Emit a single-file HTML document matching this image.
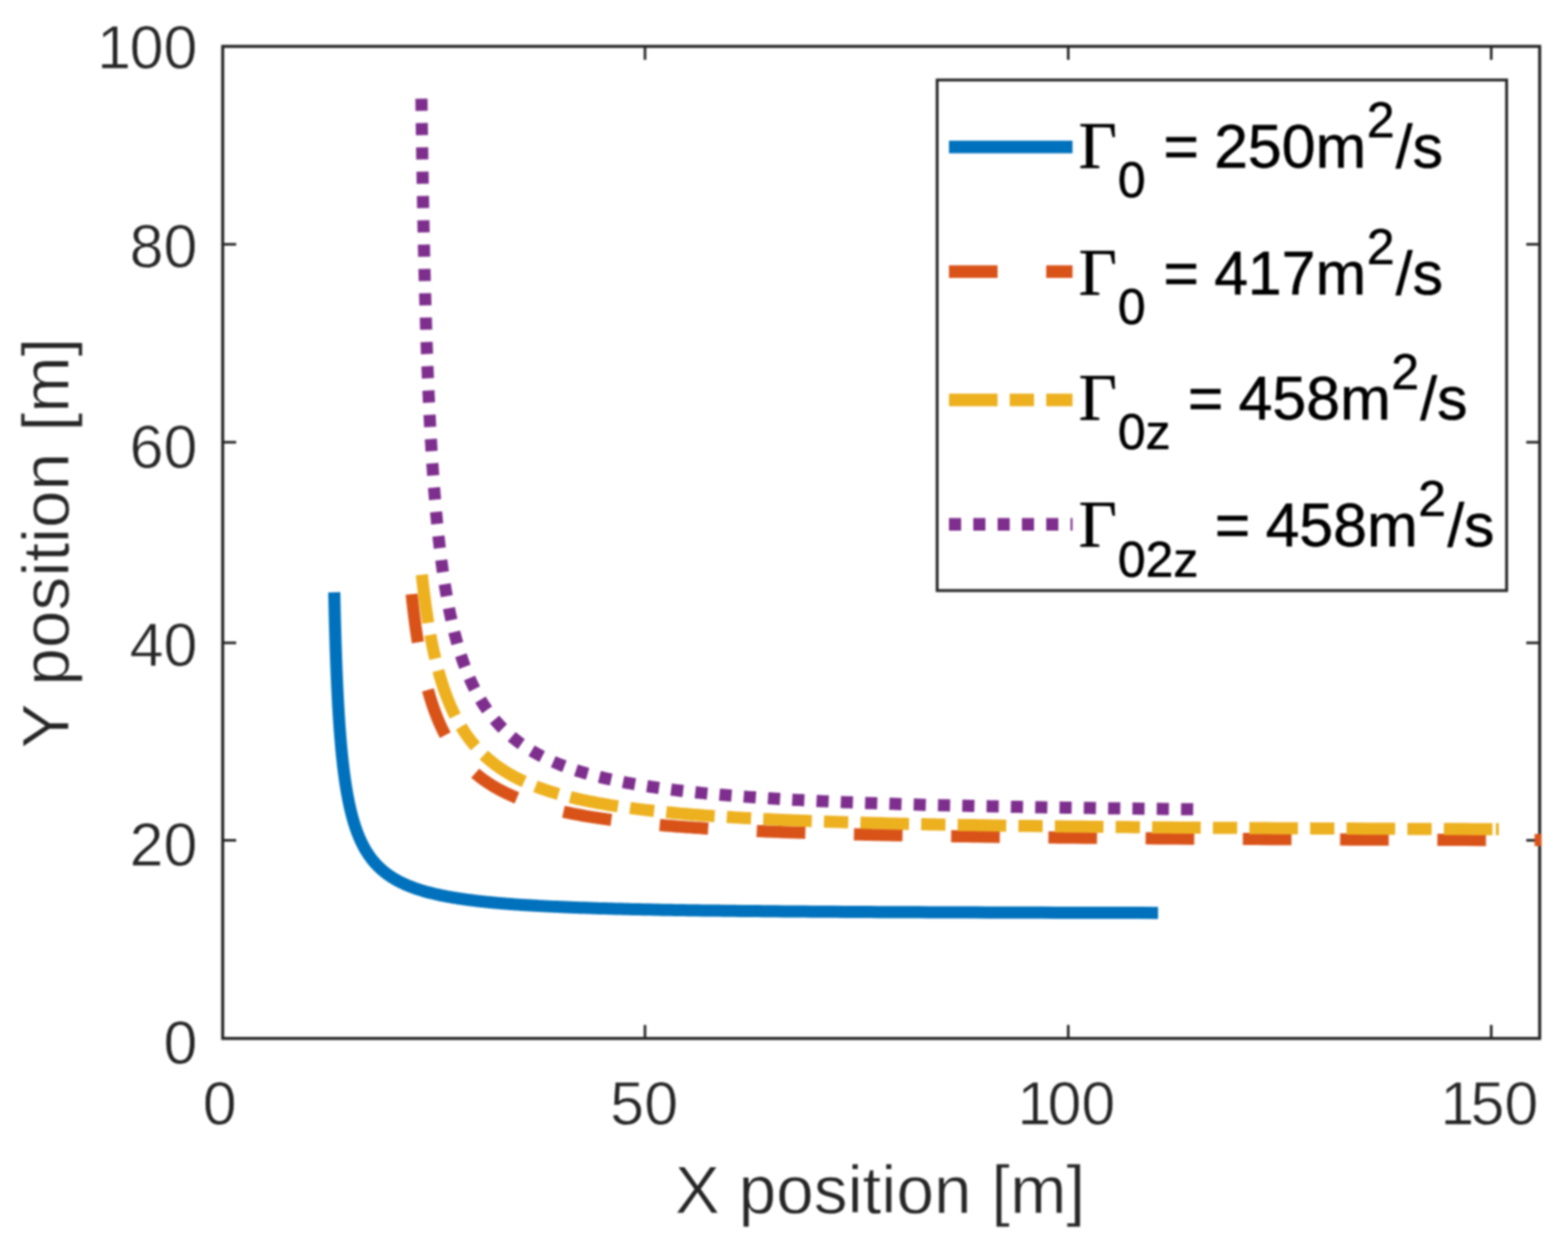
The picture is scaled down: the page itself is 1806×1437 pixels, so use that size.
<!DOCTYPE html>
<html lang="en"><head><meta charset="utf-8"><title>Vortex trajectories</title>
<style>html,body{margin:0;padding:0;background:#fff}body{width:1806px;height:1437px;overflow:hidden}svg{display:block;filter:blur(0.9px)}text{white-space:pre}</style></head>
<body>
<svg width="1806" height="1437" viewBox="0 0 1806 1437">
<rect width="1806" height="1437" fill="#fff"/>
<defs><clipPath id="ax"><rect x="256.5" y="53.4" width="1518.9" height="1142.3"/></clipPath></defs>
<g stroke="#262626" stroke-width="3.5" fill="none">
<rect x="256.5" y="53.4" width="1516.9" height="1142.3"/>
</g>
<g stroke="#262626" stroke-width="3" fill="none">
<line x1="742.9" y1="1195.7" x2="742.9" y2="1180.2"/>
<line x1="742.9" y1="53.4" x2="742.9" y2="68.9"/>
<line x1="1230.4" y1="1195.7" x2="1230.4" y2="1180.2"/>
<line x1="1230.4" y1="53.4" x2="1230.4" y2="68.9"/>
<line x1="1717.6" y1="1195.7" x2="1717.6" y2="1180.2"/>
<line x1="1717.6" y1="53.4" x2="1717.6" y2="68.9"/>
<line x1="256.5" y1="967.6" x2="272.0" y2="967.6"/>
<line x1="1773.4" y1="967.6" x2="1757.9" y2="967.6"/>
<line x1="256.5" y1="740.2" x2="272.0" y2="740.2"/>
<line x1="1773.4" y1="740.2" x2="1757.9" y2="740.2"/>
<line x1="256.5" y1="509.2" x2="272.0" y2="509.2"/>
<line x1="1773.4" y1="509.2" x2="1757.9" y2="509.2"/>
<line x1="256.5" y1="281.3" x2="272.0" y2="281.3"/>
<line x1="1773.4" y1="281.3" x2="1757.9" y2="281.3"/>
</g>
<g clip-path="url(#ax)" fill="none" stroke-width="14" stroke-linejoin="round">
<path d="M384.98 682.01 L385.07 686.11 L385.16 690.15 L385.25 694.12 L385.34 698.02 L385.43 701.86 L385.52 705.64 L385.61 709.36 L385.71 713.02 L385.80 716.63 L385.90 720.18 L385.99 723.67 L386.09 727.11 L386.19 730.50 L386.29 733.83 L386.39 737.12 L386.49 740.36 L386.59 743.55 L386.69 746.69 L386.80 749.79 L386.90 752.84 L387.01 755.85 L387.11 758.81 L387.22 761.74 L387.33 764.62 L387.44 767.46 L387.55 770.26 L387.66 773.02 L387.77 775.75 L387.88 778.44 L388.00 781.09 L388.11 783.71 L388.23 786.29 L388.34 788.83 L388.46 791.35 L388.58 793.83 L388.70 796.27 L388.82 798.69 L388.94 801.07 L389.06 803.43 L389.18 805.75 L389.30 808.04 L389.43 810.31 L389.56 812.55 L389.68 814.76 L389.81 816.94 L389.94 819.09 L390.07 821.22 L390.20 823.32 L390.33 825.40 L390.46 827.45 L390.60 829.48 L390.73 831.48 L390.87 833.46 L391.00 835.42 L391.14 837.35 L391.28 839.26 L391.42 841.15 L391.56 843.01 L391.70 844.86 L391.84 846.68 L391.99 848.48 L392.13 850.27 L392.28 852.03 L392.43 853.77 L392.57 855.50 L392.72 857.20 L392.87 858.88 L393.02 860.55 L393.18 862.20 L393.33 863.83 L393.48 865.44 L393.64 867.04 L393.80 868.62 L393.96 870.18 L394.11 871.72 L394.27 873.25 L394.44 874.76 L394.60 876.26 L394.76 877.74 L394.93 879.21 L395.09 880.66 L395.26 882.09 L395.43 883.51 L395.60 884.92 L395.77 886.31 L395.94 887.69 L396.11 889.05 L396.29 890.40 L396.46 891.74 L396.64 893.06 L396.82 894.37 L397.00 895.67 L397.18 896.95 L397.36 898.23 L397.54 899.48 L397.72 900.73 L397.91 901.97 L398.10 903.19 L398.28 904.40 L398.47 905.60 L398.66 906.79 L398.85 907.97 L399.05 909.13 L399.24 910.29 L399.44 911.43 L399.63 912.57 L399.83 913.69 L400.03 914.80 L400.23 915.91 L400.44 917.00 L400.64 918.08 L400.84 919.15 L401.05 920.21 L401.26 921.27 L401.47 922.31 L401.68 923.34 L401.89 924.37 L402.10 925.39 L402.32 926.39 L402.53 927.39 L402.75 928.38 L402.97 929.36 L403.19 930.33 L403.41 931.29 L403.64 932.25 L403.86 933.19 L404.09 934.13 L404.32 935.06 L404.55 935.98 L404.78 936.90 L405.01 937.80 L405.25 938.70 L405.48 939.59 L405.72 940.48 L405.96 941.35 L406.20 942.22 L406.44 943.08 L406.68 943.93 L406.93 944.78 L407.18 945.62 L407.43 946.45 L407.68 947.28 L407.93 948.10 L408.18 948.91 L408.44 949.72 L408.69 950.51 L408.95 951.31 L409.21 952.09 L409.48 952.87 L409.74 953.65 L410.01 954.41 L410.27 955.17 L410.54 955.93 L410.81 956.68 L411.09 957.42 L411.36 958.16 L411.64 958.89 L411.92 959.61 L412.20 960.33 L412.48 961.05 L412.76 961.76 L413.05 962.46 L413.34 963.16 L413.63 963.85 L413.92 964.54 L414.21 965.22 L414.51 965.89 L414.81 966.56 L415.11 967.23 L415.41 967.89 L415.71 968.55 L416.02 969.20 L416.32 969.84 L416.63 970.48 L416.95 971.12 L417.26 971.75 L417.58 972.37 L417.89 973.00 L418.21 973.61 L418.54 974.22 L418.86 974.83 L419.19 975.44 L419.52 976.03 L419.85 976.63 L420.18 977.22 L420.52 977.80 L420.86 978.38 L421.20 978.96 L421.54 979.53 L421.89 980.10 L422.23 980.67 L422.58 981.23 L422.94 981.78 L423.29 982.33 L423.65 982.88 L424.01 983.43 L424.37 983.97 L424.74 984.50 L425.10 985.03 L425.47 985.56 L425.84 986.09 L426.22 986.61 L426.60 987.12 L426.98 987.64 L427.36 988.15 L427.74 988.65 L428.13 989.16 L428.52 989.66 L428.92 990.15 L429.31 990.64 L429.71 991.13 L430.11 991.62 L430.52 992.10 L430.93 992.58 L431.34 993.05 L431.75 993.52 L432.17 993.99 L432.59 994.46 L433.01 994.92 L433.43 995.38 L433.86 995.83 L434.29 996.28 L434.73 996.73 L435.16 997.18 L435.61 997.62 L436.05 998.06 L436.50 998.50 L436.95 998.93 L437.40 999.36 L437.86 999.79 L438.32 1000.22 L438.78 1000.64 L439.25 1001.06 L439.72 1001.47 L440.19 1001.89 L440.67 1002.30 L441.15 1002.70 L441.63 1003.11 L442.12 1003.51 L442.61 1003.91 L443.11 1004.31 L443.61 1004.70 L444.11 1005.09 L444.61 1005.48 L445.12 1005.87 L445.64 1006.25 L446.15 1006.63 L446.68 1007.01 L447.20 1007.39 L447.73 1007.76 L448.26 1008.13 L448.80 1008.50 L449.34 1008.87 L449.89 1009.23 L450.44 1009.59 L450.99 1009.95 L451.55 1010.31 L452.11 1010.66 L452.68 1011.01 L453.25 1011.36 L453.83 1011.71 L454.41 1012.05 L454.99 1012.39 L455.58 1012.73 L456.17 1013.07 L456.77 1013.41 L457.38 1013.74 L457.98 1014.07 L458.60 1014.40 L459.21 1014.73 L459.84 1015.05 L460.46 1015.37 L461.10 1015.69 L461.73 1016.01 L462.38 1016.33 L463.02 1016.64 L463.68 1016.95 L464.34 1017.26 L465.00 1017.57 L465.67 1017.87 L466.34 1018.18 L467.02 1018.48 L467.71 1018.78 L468.40 1019.08 L469.10 1019.37 L469.80 1019.67 L470.51 1019.96 L471.22 1020.25 L471.94 1020.54 L472.67 1020.82 L473.40 1021.11 L474.14 1021.39 L474.89 1021.67 L475.64 1021.95 L476.40 1022.22 L477.16 1022.50 L477.93 1022.77 L478.71 1023.04 L479.49 1023.31 L480.28 1023.58 L481.08 1023.84 L481.89 1024.11 L482.70 1024.37 L483.52 1024.63 L484.34 1024.89 L485.18 1025.15 L486.02 1025.40 L486.87 1025.66 L487.72 1025.91 L488.59 1026.16 L489.46 1026.41 L490.34 1026.65 L491.22 1026.90 L492.12 1027.14 L493.02 1027.39 L493.93 1027.63 L494.85 1027.87 L495.78 1028.10 L496.72 1028.34 L497.67 1028.57 L498.62 1028.81 L499.58 1029.04 L500.56 1029.27 L501.54 1029.49 L502.53 1029.72 L503.53 1029.94 L504.54 1030.17 L505.56 1030.39 L506.59 1030.61 L507.63 1030.83 L508.68 1031.05 L509.74 1031.26 L510.81 1031.48 L511.89 1031.69 L512.98 1031.90 L514.08 1032.11 L515.19 1032.32 L516.32 1032.53 L517.45 1032.73 L518.60 1032.94 L519.76 1033.14 L520.93 1033.34 L522.11 1033.54 L523.30 1033.74 L524.51 1033.94 L525.73 1034.13 L526.96 1034.33 L528.21 1034.52 L529.46 1034.71 L530.73 1034.90 L532.02 1035.09 L533.31 1035.28 L534.63 1035.47 L535.95 1035.65 L537.29 1035.84 L538.64 1036.02 L540.01 1036.20 L541.40 1036.38 L542.79 1036.56 L544.21 1036.74 L545.64 1036.91 L547.08 1037.09 L548.55 1037.26 L550.02 1037.44 L551.52 1037.61 L553.03 1037.78 L554.56 1037.95 L556.11 1038.11 L557.67 1038.28 L559.25 1038.44 L560.85 1038.61 L562.47 1038.77 L564.11 1038.93 L565.77 1039.09 L567.45 1039.25 L569.14 1039.41 L570.86 1039.57 L572.60 1039.72 L574.36 1039.88 L576.14 1040.03 L577.95 1040.18 L579.77 1040.33 L581.62 1040.48 L583.49 1040.63 L585.38 1040.78 L587.30 1040.93 L589.25 1041.07 L591.21 1041.22 L593.21 1041.36 L595.23 1041.50 L597.27 1041.64 L599.34 1041.78 L601.44 1041.92 L603.57 1042.06 L605.72 1042.19 L607.91 1042.33 L610.12 1042.46 L612.36 1042.60 L614.64 1042.73 L616.94 1042.86 L619.28 1042.99 L621.65 1043.12 L624.05 1043.25 L626.49 1043.37 L628.96 1043.50 L631.47 1043.63 L634.01 1043.75 L636.59 1043.87 L639.20 1043.99 L641.86 1044.11 L644.55 1044.23 L647.29 1044.35 L650.07 1044.47 L652.88 1044.59 L655.74 1044.70 L658.65 1044.82 L661.60 1044.93 L664.59 1045.04 L667.63 1045.15 L670.72 1045.26 L673.86 1045.37 L677.05 1045.48 L680.29 1045.59 L683.59 1045.70 L686.93 1045.80 L690.34 1045.91 L693.80 1046.01 L697.31 1046.11 L700.89 1046.22 L704.53 1046.32 L708.23 1046.42 L711.99 1046.52 L715.83 1046.61 L719.72 1046.71 L723.69 1046.81 L727.73 1046.90 L731.84 1047.00 L736.03 1047.09 L740.29 1047.18 L744.63 1047.27 L749.06 1047.36 L753.57 1047.45 L758.16 1047.54 L762.84 1047.63 L767.62 1047.72 L772.49 1047.80 L777.45 1047.89 L782.51 1047.97 L787.68 1048.05 L792.95 1048.14 L798.33 1048.22 L803.82 1048.30 L809.43 1048.38 L815.16 1048.46 L821.01 1048.53 L826.98 1048.61 L833.09 1048.69 L839.33 1048.76 L845.72 1048.84 L852.24 1048.91 L858.92 1048.98 L865.75 1049.05 L872.75 1049.12 L879.90 1049.19 L887.23 1049.26 L894.74 1049.33 L902.44 1049.40 L910.32 1049.46 L918.40 1049.53 L926.69 1049.59 L935.19 1049.66 L943.92 1049.72 L952.87 1049.78 L962.07 1049.84 L971.51 1049.90 L981.22 1049.96 L991.20 1050.02 L1001.46 1050.08 L1012.02 1050.14 L1022.88 1050.19 L1034.06 1050.25 L1045.58 1050.30 L1057.46 1050.36 L1069.69 1050.41 L1082.32 1050.46 L1095.34 1050.51 L1108.79 1050.56 L1122.68 1050.61 L1137.04 1050.66 L1151.88 1050.71 L1167.24 1050.75 L1183.14 1050.80 L1199.61 1050.85 L1216.69 1050.89 L1234.39 1050.93 L1252.77 1050.98 L1271.86 1051.02 L1291.70 1051.06 L1312.34 1051.10 L1333.82 1051.14" stroke="#0072BD"/>
<path d="M474.01 682.81 L474.22 684.85 L474.43 686.88 L474.65 688.89 L474.86 690.89 L475.08 692.86 L475.30 694.82 L475.52 696.76 L475.74 698.68 L475.96 700.59 L476.18 702.48 L476.41 704.35 L476.63 706.21 L476.86 708.05 L477.09 709.88 L477.32 711.69 L477.55 713.49 L477.78 715.27 L478.02 717.03 L478.25 718.78 L478.49 720.52 L478.73 722.24 L478.97 723.95 L479.21 725.64 L479.45 727.32 L479.69 728.99 L479.94 730.64 L480.18 732.28 L480.43 733.91 L480.68 735.52 L480.93 737.12 L481.18 738.70 L481.44 740.28 L481.69 741.84 L481.95 743.39 L482.21 744.92 L482.47 746.45 L482.73 747.96 L482.99 749.46 L483.25 750.95 L483.52 752.43 L483.79 753.89 L484.06 755.35 L484.33 756.79 L484.60 758.22 L484.87 759.64 L485.14 761.05 L485.42 762.45 L485.70 763.84 L485.98 765.22 L486.26 766.58 L486.54 767.94 L486.82 769.29 L487.11 770.63 L487.40 771.95 L487.69 773.27 L487.98 774.58 L488.27 775.87 L488.56 777.16 L488.86 778.44 L489.15 779.71 L489.45 780.97 L489.75 782.22 L490.06 783.46 L490.36 784.69 L490.67 785.92 L490.97 787.13 L491.28 788.34 L491.59 789.53 L491.90 790.72 L492.22 791.90 L492.53 793.07 L492.85 794.24 L493.17 795.39 L493.49 796.54 L493.82 797.68 L494.14 798.81 L494.47 799.93 L494.80 801.05 L495.13 802.15 L495.46 803.25 L495.79 804.34 L496.13 805.43 L496.47 806.51 L496.81 807.57 L497.15 808.64 L497.49 809.69 L497.84 810.74 L498.18 811.78 L498.53 812.81 L498.88 813.84 L499.24 814.86 L499.59 815.87 L499.95 816.88 L500.31 817.87 L500.67 818.87 L501.03 819.85 L501.40 820.83 L501.76 821.80 L502.13 822.77 L502.51 823.73 L502.88 824.68 L503.25 825.63 L503.63 826.57 L504.01 827.50 L504.39 828.43 L504.78 829.35 L505.16 830.27 L505.55 831.18 L505.94 832.08 L506.34 832.98 L506.73 833.87 L507.13 834.76 L507.53 835.64 L507.93 836.51 L508.33 837.38 L508.74 838.25 L509.15 839.10 L509.56 839.96 L509.97 840.80 L510.39 841.65 L510.81 842.48 L511.23 843.31 L511.65 844.14 L512.07 844.96 L512.50 845.78 L512.93 846.59 L513.36 847.39 L513.80 848.19 L514.24 848.99 L514.68 849.78 L515.12 850.56 L515.56 851.34 L516.01 852.12 L516.46 852.89 L516.91 853.66 L517.37 854.42 L517.83 855.18 L518.29 855.93 L518.75 856.67 L519.22 857.42 L519.68 858.16 L520.16 858.89 L520.63 859.62 L521.11 860.34 L521.59 861.06 L522.07 861.78 L522.55 862.49 L523.04 863.20 L523.53 863.90 L524.02 864.60 L524.52 865.29 L525.02 865.98 L525.52 866.67 L526.03 867.35 L526.53 868.03 L527.05 868.70 L527.56 869.37 L528.08 870.04 L528.60 870.70 L529.12 871.36 L529.65 872.01 L530.17 872.66 L530.71 873.31 L531.24 873.95 L531.78 874.59 L532.32 875.23 L532.87 875.86 L533.42 876.48 L533.97 877.11 L534.52 877.73 L535.08 878.34 L535.64 878.96 L536.21 879.57 L536.78 880.17 L537.35 880.77 L537.92 881.37 L538.50 881.97 L539.08 882.56 L539.67 883.15 L540.26 883.73 L540.85 884.31 L541.45 884.89 L542.05 885.47 L542.65 886.04 L543.26 886.60 L543.87 887.17 L544.48 887.73 L545.10 888.29 L545.72 888.84 L546.35 889.40 L546.98 889.94 L547.61 890.49 L548.25 891.03 L548.89 891.57 L549.54 892.11 L550.19 892.64 L550.84 893.17 L551.50 893.70 L552.16 894.22 L552.82 894.74 L553.49 895.26 L554.17 895.78 L554.85 896.29 L555.53 896.80 L556.22 897.30 L556.91 897.81 L557.60 898.31 L558.30 898.81 L559.01 899.30 L559.72 899.79 L560.43 900.28 L561.15 900.77 L561.87 901.25 L562.60 901.74 L563.33 902.21 L564.07 902.69 L564.81 903.16 L565.56 903.63 L566.31 904.10 L567.06 904.57 L567.82 905.03 L568.59 905.49 L569.36 905.95 L570.14 906.40 L570.92 906.85 L571.70 907.30 L572.49 907.75 L573.29 908.20 L574.09 908.64 L574.90 909.08 L575.71 909.51 L576.53 909.95 L577.35 910.38 L578.18 910.81 L579.02 911.24 L579.85 911.67 L580.70 912.09 L581.55 912.51 L582.41 912.93 L583.27 913.34 L584.14 913.76 L585.01 914.17 L585.90 914.58 L586.78 914.98 L587.67 915.39 L588.57 915.79 L589.48 916.19 L590.39 916.59 L591.31 916.98 L592.23 917.38 L593.16 917.77 L594.10 918.16 L595.04 918.54 L595.99 918.93 L596.95 919.31 L597.91 919.69 L598.88 920.07 L599.86 920.45 L600.84 920.82 L601.83 921.19 L602.83 921.56 L603.84 921.93 L604.85 922.29 L605.87 922.66 L606.90 923.02 L607.93 923.38 L608.97 923.74 L610.02 924.09 L611.08 924.45 L612.14 924.80 L613.22 925.15 L614.30 925.50 L615.39 925.84 L616.48 926.19 L617.59 926.53 L618.70 926.87 L619.82 927.21 L620.95 927.54 L622.09 927.88 L623.24 928.21 L624.39 928.54 L625.56 928.87 L626.73 929.20 L627.91 929.52 L629.10 929.85 L630.30 930.17 L631.51 930.49 L632.73 930.80 L633.96 931.12 L635.19 931.43 L636.44 931.75 L637.70 932.06 L638.96 932.37 L640.24 932.67 L641.53 932.98 L642.82 933.28 L644.13 933.59 L645.45 933.89 L646.78 934.19 L648.12 934.48 L649.47 934.78 L650.83 935.07 L652.20 935.36 L653.58 935.65 L654.97 935.94 L656.38 936.23 L657.79 936.51 L659.22 936.80 L660.66 937.08 L662.11 937.36 L663.58 937.64 L665.05 937.92 L666.54 938.19 L668.04 938.47 L669.56 938.74 L671.08 939.01 L672.62 939.28 L674.18 939.55 L675.74 939.81 L677.32 940.08 L678.91 940.34 L680.52 940.60 L682.14 940.86 L683.78 941.12 L685.42 941.38 L687.09 941.63 L688.77 941.89 L690.46 942.14 L692.17 942.39 L693.89 942.64 L695.63 942.89 L697.38 943.14 L699.15 943.38 L700.94 943.63 L702.74 943.87 L704.56 944.11 L706.39 944.35 L708.24 944.59 L710.11 944.82 L712.00 945.06 L713.90 945.29 L715.82 945.52 L717.76 945.76 L719.72 945.98 L721.70 946.21 L723.69 946.44 L725.71 946.66 L727.74 946.89 L729.79 947.11 L731.87 947.33 L733.96 947.55 L736.07 947.77 L738.21 947.99 L740.36 948.20 L742.54 948.42 L744.73 948.63 L746.95 948.84 L749.20 949.05 L751.46 949.26 L753.75 949.47 L756.06 949.68 L758.39 949.88 L760.75 950.09 L763.13 950.29 L765.54 950.49 L767.97 950.69 L770.43 950.89 L772.91 951.09 L775.42 951.28 L777.95 951.48 L780.52 951.67 L783.11 951.87 L785.72 952.06 L788.37 952.25 L791.04 952.44 L793.75 952.62 L796.48 952.81 L799.24 953.00 L802.04 953.18 L804.86 953.36 L807.72 953.54 L810.61 953.72 L813.53 953.90 L816.48 954.08 L819.47 954.26 L822.49 954.43 L825.55 954.61 L828.64 954.78 L831.77 954.95 L834.94 955.12 L838.14 955.29 L841.38 955.46 L844.66 955.63 L847.98 955.79 L851.33 955.96 L854.73 956.12 L858.17 956.28 L861.66 956.45 L865.18 956.61 L868.75 956.76 L872.36 956.92 L876.02 957.08 L879.73 957.23 L883.48 957.39 L887.28 957.54 L891.13 957.70 L895.03 957.85 L898.98 958.00 L902.98 958.15 L907.03 958.29 L911.14 958.44 L915.30 958.59 L919.52 958.73 L923.80 958.87 L928.13 959.02 L932.52 959.16 L936.98 959.30 L941.49 959.44 L946.07 959.57 L950.71 959.71 L955.42 959.85 L960.20 959.98 L965.04 960.12 L969.95 960.25 L974.94 960.38 L980.00 960.51 L985.13 960.64 L990.34 960.77 L995.62 960.90 L1000.99 961.02 L1006.44 961.15 L1011.97 961.27 L1017.58 961.39 L1023.29 961.52 L1029.08 961.64 L1034.96 961.76 L1040.94 961.88 L1047.01 961.99 L1053.18 962.11 L1059.45 962.23 L1065.83 962.34 L1072.31 962.46 L1078.89 962.57 L1085.59 962.68 L1092.40 962.79 L1099.33 962.90 L1106.37 963.01 L1113.54 963.12 L1120.83 963.22 L1128.25 963.33 L1135.81 963.43 L1143.49 963.54 L1151.32 963.64 L1159.29 963.74 L1167.41 963.84 L1175.68 963.94 L1184.10 964.04 L1192.69 964.14 L1201.43 964.24 L1210.35 964.33 L1219.44 964.43 L1228.71 964.52 L1238.16 964.62 L1247.80 964.71 L1257.64 964.80 L1267.68 964.89 L1277.92 964.98 L1288.38 965.07 L1299.06 965.15 L1309.97 965.24 L1321.11 965.32 L1332.50 965.41 L1344.13 965.49 L1356.03 965.57 L1368.19 965.66 L1380.63 965.74 L1393.35 965.82 L1406.37 965.89 L1419.70 965.97 L1433.34 966.05 L1447.31 966.12 L1461.62 966.20 L1476.29 966.27 L1491.32 966.35 L1506.73 966.42 L1522.54 966.49 L1538.75 966.56 L1555.39 966.63 L1572.48 966.70 L1590.02 966.76 L1608.05 966.83 L1626.57 966.89 L1645.61 966.96 L1665.20 967.02 L1685.35 967.09 L1706.10 967.15 L1727.46 967.21 L1749.46 967.27 L1772.14 967.33 L1795.53 967.38" stroke="#D95319" stroke-dasharray="56 56" stroke-dashoffset="-1.3"/>
<path d="M485.70 659.96 L485.92 662.04 L486.14 664.10 L486.36 666.14 L486.59 668.16 L486.82 670.17 L487.04 672.16 L487.27 674.13 L487.50 676.09 L487.74 678.03 L487.97 679.95 L488.20 681.86 L488.44 683.75 L488.68 685.62 L488.92 687.48 L489.16 689.33 L489.40 691.16 L489.64 692.97 L489.88 694.77 L490.13 696.55 L490.38 698.32 L490.62 700.08 L490.87 701.82 L491.13 703.55 L491.38 705.26 L491.63 706.96 L491.89 708.65 L492.14 710.32 L492.40 711.98 L492.66 713.62 L492.92 715.26 L493.19 716.88 L493.45 718.49 L493.72 720.08 L493.98 721.66 L494.25 723.23 L494.52 724.79 L494.79 726.34 L495.07 727.87 L495.34 729.40 L495.62 730.91 L495.90 732.41 L496.18 733.89 L496.46 735.37 L496.74 736.84 L497.02 738.29 L497.31 739.74 L497.60 741.17 L497.88 742.59 L498.17 744.00 L498.47 745.41 L498.76 746.80 L499.06 748.18 L499.35 749.55 L499.65 750.91 L499.95 752.26 L500.25 753.60 L500.56 754.93 L500.86 756.25 L501.17 757.57 L501.48 758.87 L501.79 760.16 L502.10 761.45 L502.41 762.72 L502.73 763.99 L503.05 765.24 L503.36 766.49 L503.68 767.73 L504.01 768.96 L504.33 770.18 L504.66 771.40 L504.99 772.60 L505.31 773.80 L505.65 774.98 L505.98 776.16 L506.31 777.34 L506.65 778.50 L506.99 779.65 L507.33 780.80 L507.67 781.94 L508.02 783.07 L508.36 784.20 L508.71 785.31 L509.06 786.42 L509.41 787.52 L509.77 788.62 L510.12 789.70 L510.48 790.78 L510.84 791.86 L511.20 792.92 L511.57 793.98 L511.93 795.03 L512.30 796.07 L512.67 797.11 L513.04 798.14 L513.41 799.16 L513.79 800.18 L514.17 801.19 L514.55 802.19 L514.93 803.19 L515.31 804.18 L515.70 805.16 L516.09 806.14 L516.48 807.11 L516.87 808.08 L517.27 809.03 L517.66 809.99 L518.06 810.93 L518.47 811.87 L518.87 812.81 L519.28 813.74 L519.68 814.66 L520.09 815.57 L520.51 816.48 L520.92 817.39 L521.34 818.29 L521.76 819.18 L522.18 820.07 L522.61 820.95 L523.03 821.83 L523.46 822.70 L523.89 823.56 L524.33 824.43 L524.76 825.28 L525.20 826.13 L525.64 826.97 L526.09 827.81 L526.53 828.65 L526.98 829.48 L527.43 830.30 L527.89 831.12 L528.34 831.93 L528.80 832.74 L529.26 833.54 L529.73 834.34 L530.19 835.14 L530.66 835.93 L531.13 836.71 L531.61 837.49 L532.09 838.26 L532.56 839.03 L533.05 839.80 L533.53 840.56 L534.02 841.32 L534.51 842.07 L535.01 842.82 L535.50 843.56 L536.00 844.30 L536.50 845.03 L537.01 845.76 L537.52 846.49 L538.03 847.21 L538.54 847.92 L539.06 848.64 L539.58 849.34 L540.10 850.05 L540.62 850.75 L541.15 851.44 L541.68 852.14 L542.22 852.82 L542.76 853.51 L543.30 854.19 L543.84 854.86 L544.39 855.53 L544.94 856.20 L545.49 856.87 L546.05 857.53 L546.61 858.18 L547.17 858.83 L547.74 859.48 L548.31 860.13 L548.88 860.77 L549.46 861.41 L550.04 862.04 L550.62 862.67 L551.21 863.30 L551.80 863.92 L552.39 864.54 L552.99 865.16 L553.59 865.77 L554.19 866.38 L554.80 866.98 L555.41 867.58 L556.03 868.18 L556.65 868.78 L557.27 869.37 L557.89 869.96 L558.52 870.54 L559.16 871.12 L559.80 871.70 L560.44 872.28 L561.08 872.85 L561.73 873.42 L562.38 873.98 L563.04 874.55 L563.70 875.10 L564.37 875.66 L565.04 876.21 L565.71 876.76 L566.39 877.31 L567.07 877.85 L567.75 878.39 L568.44 878.93 L569.14 879.47 L569.83 880.00 L570.54 880.53 L571.24 881.05 L571.95 881.57 L572.67 882.09 L573.39 882.61 L574.11 883.12 L574.84 883.64 L575.58 884.14 L576.32 884.65 L577.06 885.15 L577.81 885.65 L578.56 886.15 L579.31 886.64 L580.08 887.14 L580.84 887.62 L581.61 888.11 L582.39 888.59 L583.17 889.07 L583.96 889.55 L584.75 890.03 L585.55 890.50 L586.35 890.97 L587.15 891.44 L587.97 891.91 L588.78 892.37 L589.60 892.83 L590.43 893.29 L591.27 893.74 L592.10 894.19 L592.95 894.64 L593.80 895.09 L594.65 895.54 L595.51 895.98 L596.38 896.42 L597.25 896.86 L598.13 897.29 L599.01 897.73 L599.90 898.16 L600.80 898.59 L601.70 899.01 L602.61 899.43 L603.52 899.86 L604.44 900.28 L605.37 900.69 L606.30 901.11 L607.24 901.52 L608.18 901.93 L609.13 902.34 L610.09 902.74 L611.06 903.15 L612.03 903.55 L613.00 903.95 L613.99 904.34 L614.98 904.74 L615.98 905.13 L616.98 905.52 L617.99 905.91 L619.01 906.29 L620.04 906.68 L621.07 907.06 L622.11 907.44 L623.16 907.82 L624.22 908.19 L625.28 908.57 L626.35 908.94 L627.43 909.31 L628.51 909.67 L629.61 910.04 L630.71 910.40 L631.82 910.77 L632.94 911.12 L634.06 911.48 L635.19 911.84 L636.34 912.19 L637.49 912.54 L638.64 912.89 L639.81 913.24 L640.99 913.59 L642.17 913.93 L643.37 914.27 L644.57 914.61 L645.78 914.95 L647.00 915.29 L648.23 915.62 L649.47 915.95 L650.71 916.29 L651.97 916.61 L653.24 916.94 L654.51 917.27 L655.80 917.59 L657.10 917.91 L658.40 918.23 L659.72 918.55 L661.04 918.87 L662.38 919.18 L663.73 919.50 L665.08 919.81 L666.45 920.12 L667.83 920.42 L669.22 920.73 L670.62 921.03 L672.03 921.34 L673.46 921.64 L674.89 921.94 L676.34 922.24 L677.79 922.53 L679.26 922.83 L680.74 923.12 L682.24 923.41 L683.74 923.70 L685.26 923.99 L686.79 924.27 L688.33 924.56 L689.89 924.84 L691.45 925.12 L693.04 925.40 L694.63 925.68 L696.24 925.96 L697.86 926.23 L699.49 926.50 L701.14 926.78 L702.80 927.05 L704.48 927.31 L706.17 927.58 L707.88 927.85 L709.60 928.11 L711.33 928.37 L713.08 928.63 L714.85 928.89 L716.63 929.15 L718.43 929.41 L720.24 929.66 L722.07 929.92 L723.91 930.17 L725.77 930.42 L727.65 930.67 L729.55 930.92 L731.46 931.16 L733.39 931.41 L735.33 931.65 L737.30 931.89 L739.28 932.13 L741.28 932.37 L743.30 932.61 L745.34 932.85 L747.39 933.08 L749.47 933.31 L751.56 933.55 L753.68 933.78 L755.82 934.01 L757.97 934.23 L760.15 934.46 L762.34 934.69 L764.56 934.91 L766.80 935.13 L769.06 935.35 L771.35 935.57 L773.65 935.79 L775.98 936.01 L778.33 936.22 L780.71 936.44 L783.11 936.65 L785.53 936.86 L787.98 937.07 L790.45 937.28 L792.95 937.49 L795.47 937.70 L798.02 937.90 L800.59 938.11 L803.19 938.31 L805.82 938.51 L808.48 938.71 L811.16 938.91 L813.87 939.11 L816.61 939.30 L819.38 939.50 L822.18 939.69 L825.01 939.88 L827.87 940.07 L830.77 940.26 L833.69 940.45 L836.65 940.64 L839.63 940.83 L842.65 941.01 L845.71 941.20 L848.80 941.38 L851.92 941.56 L855.08 941.74 L858.28 941.92 L861.51 942.10 L864.78 942.27 L868.08 942.45 L871.43 942.62 L874.81 942.79 L878.24 942.97 L881.70 943.14 L885.21 943.31 L888.76 943.47 L892.35 943.64 L895.98 943.81 L899.66 943.97 L903.38 944.14 L907.15 944.30 L910.97 944.46 L914.83 944.62 L918.74 944.78 L922.70 944.94 L926.71 945.09 L930.77 945.25 L934.89 945.40 L939.06 945.56 L943.28 945.71 L947.55 945.86 L951.89 946.01 L956.28 946.16 L960.72 946.31 L965.23 946.45 L969.80 946.60 L974.43 946.74 L979.13 946.89 L983.89 947.03 L988.71 947.17 L993.60 947.31 L998.56 947.45 L1003.59 947.59 L1008.69 947.72 L1013.87 947.86 L1019.12 947.99 L1024.44 948.13 L1029.85 948.26 L1035.33 948.39 L1040.89 948.52 L1046.54 948.65 L1052.27 948.78 L1058.09 948.91 L1064.00 949.03 L1070.00 949.16 L1076.09 949.28 L1082.28 949.40 L1088.56 949.53 L1094.94 949.65 L1101.43 949.77 L1108.02 949.89 L1114.72 950.00 L1121.52 950.12 L1128.44 950.24 L1135.47 950.35 L1142.62 950.46 L1149.89 950.58 L1157.29 950.69 L1164.81 950.80 L1172.46 950.91 L1180.25 951.02 L1188.17 951.12 L1196.23 951.23 L1204.44 951.34 L1212.80 951.44 L1221.30 951.54 L1229.97 951.65 L1238.79 951.75 L1247.78 951.85 L1256.94 951.95 L1266.28 952.05 L1275.79 952.14 L1285.49 952.24 L1295.38 952.34 L1305.47 952.43 L1315.76 952.52 L1326.25 952.62 L1336.96 952.71 L1347.89 952.80 L1359.05 952.89 L1370.44 952.98 L1382.08 953.06 L1393.96 953.15 L1406.11 953.24 L1418.51 953.32 L1431.20 953.40 L1444.17 953.49 L1457.43 953.57 L1471.00 953.65 L1484.88 953.73 L1499.09 953.81 L1513.63 953.89 L1528.53 953.96 L1543.78 954.04 L1559.41 954.12 L1575.44 954.19 L1591.86 954.26 L1608.71 954.33 L1625.99 954.41 L1643.72 954.48 L1661.92 954.55 L1680.61 954.61 L1699.82 954.68 L1719.55 954.75" stroke="#EDB120" stroke-dasharray="56 14 28 14" stroke-dashoffset="-1.8"/>
<path d="M485.41 112.80 L485.54 122.65 L485.67 132.33 L485.80 141.82 L485.93 151.14 L486.06 160.29 L486.20 169.28 L486.33 178.11 L486.47 186.78 L486.61 195.30 L486.75 203.67 L486.89 211.90 L487.03 219.99 L487.17 227.94 L487.32 235.76 L487.47 243.44 L487.61 251.01 L487.76 258.44 L487.91 265.76 L488.07 272.96 L488.22 280.04 L488.37 287.01 L488.53 293.87 L488.69 300.62 L488.85 307.27 L489.01 313.82 L489.17 320.26 L489.33 326.61 L489.50 332.86 L489.66 339.02 L489.83 345.09 L490.00 351.07 L490.17 356.96 L490.34 362.76 L490.52 368.48 L490.69 374.12 L490.87 379.67 L491.05 385.15 L491.22 390.55 L491.41 395.88 L491.59 401.13 L491.77 406.31 L491.96 411.42 L492.14 416.45 L492.33 421.42 L492.52 426.33 L492.71 431.17 L492.90 435.94 L493.10 440.65 L493.29 445.30 L493.49 449.88 L493.69 454.41 L493.89 458.88 L494.09 463.30 L494.30 467.65 L494.50 471.95 L494.71 476.20 L494.92 480.39 L495.13 484.53 L495.34 488.62 L495.55 492.66 L495.76 496.66 L495.98 500.60 L496.20 504.49 L496.42 508.34 L496.64 512.14 L496.86 515.90 L497.09 519.61 L497.31 523.27 L497.54 526.90 L497.77 530.48 L498.00 534.02 L498.23 537.52 L498.47 540.98 L498.70 544.40 L498.94 547.78 L499.18 551.13 L499.42 554.43 L499.66 557.70 L499.91 560.94 L500.15 564.13 L500.40 567.29 L500.65 570.42 L500.90 573.51 L501.16 576.57 L501.41 579.60 L501.67 582.59 L501.93 585.55 L502.19 588.48 L502.45 591.38 L502.71 594.25 L502.98 597.09 L503.25 599.90 L503.52 602.68 L503.79 605.43 L504.06 608.15 L504.34 610.84 L504.62 613.51 L504.89 616.15 L505.17 618.76 L505.46 621.35 L505.74 623.91 L506.03 626.44 L506.32 628.95 L506.61 631.43 L506.90 633.89 L507.20 636.33 L507.49 638.74 L507.79 641.13 L508.09 643.49 L508.39 645.84 L508.70 648.16 L509.00 650.45 L509.31 652.73 L509.62 654.98 L509.94 657.22 L510.25 659.43 L510.57 661.62 L510.89 663.79 L511.21 665.94 L511.53 668.07 L511.85 670.18 L512.18 672.27 L512.51 674.34 L512.84 676.39 L513.18 678.42 L513.51 680.44 L513.85 682.44 L514.19 684.41 L514.53 686.38 L514.88 688.32 L515.23 690.25 L515.58 692.15 L515.93 694.05 L516.28 695.92 L516.64 697.78 L517.00 699.62 L517.36 701.45 L517.72 703.26 L518.09 705.06 L518.45 706.83 L518.82 708.60 L519.20 710.35 L519.57 712.08 L519.95 713.80 L520.33 715.50 L520.71 717.19 L521.10 718.87 L521.48 720.53 L521.87 722.18 L522.27 723.81 L522.66 725.43 L523.06 727.04 L523.46 728.63 L523.86 730.21 L524.27 731.78 L524.67 733.34 L525.08 734.88 L525.50 736.41 L525.91 737.92 L526.33 739.43 L526.75 740.92 L527.18 742.40 L527.60 743.87 L528.03 745.32 L528.46 746.77 L528.90 748.20 L529.33 749.62 L529.77 751.04 L530.22 752.43 L530.66 753.82 L531.11 755.20 L531.56 756.57 L532.02 757.92 L532.48 759.27 L532.94 760.60 L533.40 761.93 L533.87 763.24 L534.33 764.55 L534.81 765.84 L535.28 767.13 L535.76 768.40 L536.24 769.67 L536.73 770.92 L537.21 772.17 L537.71 773.40 L538.20 774.63 L538.70 775.85 L539.20 777.06 L539.70 778.25 L540.21 779.44 L540.72 780.63 L541.23 781.80 L541.75 782.96 L542.27 784.12 L542.79 785.27 L543.32 786.40 L543.85 787.53 L544.38 788.66 L544.92 789.77 L545.46 790.87 L546.00 791.97 L546.55 793.06 L547.10 794.14 L547.66 795.22 L548.22 796.28 L548.78 797.34 L549.34 798.39 L549.91 799.43 L550.49 800.47 L551.06 801.50 L551.64 802.52 L552.23 803.53 L552.82 804.54 L553.41 805.54 L554.00 806.53 L554.60 807.51 L555.21 808.49 L555.82 809.46 L556.43 810.43 L557.04 811.39 L557.66 812.34 L558.29 813.28 L558.92 814.22 L559.55 815.15 L560.19 816.07 L560.83 816.99 L561.47 817.90 L562.12 818.81 L562.78 819.71 L563.43 820.60 L564.10 821.49 L564.76 822.37 L565.44 823.25 L566.11 824.12 L566.79 824.98 L567.48 825.84 L568.17 826.69 L568.86 827.53 L569.56 828.37 L570.26 829.21 L570.97 830.03 L571.69 830.86 L572.41 831.67 L573.13 832.49 L573.86 833.29 L574.59 834.09 L575.33 834.89 L576.07 835.68 L576.82 836.46 L577.57 837.24 L578.33 838.02 L579.10 838.79 L579.87 839.55 L580.64 840.31 L581.42 841.07 L582.21 841.81 L583.00 842.56 L583.79 843.30 L584.60 844.03 L585.40 844.76 L586.22 845.49 L587.04 846.21 L587.86 846.92 L588.69 847.63 L589.53 848.34 L590.37 849.04 L591.22 849.74 L592.07 850.43 L592.94 851.12 L593.80 851.80 L594.67 852.48 L595.55 853.15 L596.44 853.82 L597.33 854.49 L598.23 855.15 L599.14 855.81 L600.05 856.46 L600.97 857.11 L601.89 857.75 L602.82 858.39 L603.76 859.03 L604.71 859.66 L605.66 860.29 L606.62 860.91 L607.58 861.53 L608.56 862.15 L609.54 862.76 L610.53 863.36 L611.52 863.97 L612.52 864.57 L613.53 865.16 L614.55 865.76 L615.58 866.35 L616.61 866.93 L617.65 867.51 L618.70 868.09 L619.76 868.66 L620.82 869.23 L621.90 869.80 L622.98 870.36 L624.07 870.92 L625.16 871.48 L626.27 872.03 L627.39 872.58 L628.51 873.12 L629.64 873.66 L630.78 874.20 L631.93 874.73 L633.09 875.27 L634.26 875.79 L635.44 876.32 L636.63 876.84 L637.82 877.36 L639.03 877.87 L640.24 878.38 L641.47 878.89 L642.70 879.40 L643.95 879.90 L645.20 880.39 L646.47 880.89 L647.74 881.38 L649.03 881.87 L650.33 882.36 L651.63 882.84 L652.95 883.32 L654.28 883.79 L655.62 884.27 L656.97 884.74 L658.33 885.21 L659.70 885.67 L661.09 886.13 L662.49 886.59 L663.89 887.05 L665.31 887.50 L666.75 887.95 L668.19 888.40 L669.65 888.84 L671.12 889.28 L672.60 889.72 L674.09 890.15 L675.60 890.59 L677.12 891.02 L678.65 891.44 L680.20 891.87 L681.76 892.29 L683.33 892.71 L684.92 893.13 L686.52 893.54 L688.14 893.95 L689.77 894.36 L691.42 894.76 L693.08 895.17 L694.75 895.57 L696.44 895.97 L698.15 896.36 L699.87 896.75 L701.61 897.14 L703.36 897.53 L705.13 897.92 L706.91 898.30 L708.72 898.68 L710.53 899.06 L712.37 899.43 L714.22 899.80 L716.09 900.17 L717.98 900.54 L719.89 900.91 L721.81 901.27 L723.76 901.63 L725.72 901.99 L727.70 902.35 L729.70 902.70 L731.72 903.05 L733.76 903.40 L735.82 903.75 L737.90 904.09 L740.00 904.43 L742.12 904.77 L744.26 905.11 L746.42 905.44 L748.61 905.78 L750.81 906.11 L753.04 906.43 L755.30 906.76 L757.57 907.08 L759.87 907.41 L762.20 907.73 L764.54 908.04 L766.91 908.36 L769.31 908.67 L771.73 908.98 L774.18 909.29 L776.65 909.60 L779.15 909.90 L781.68 910.20 L784.24 910.51 L786.82 910.80 L789.43 911.10 L792.07 911.39 L794.73 911.69 L797.43 911.98 L800.16 912.26 L802.91 912.55 L805.70 912.83 L808.52 913.12 L811.37 913.40 L814.26 913.67 L817.17 913.95 L820.13 914.22 L823.11 914.50 L826.13 914.77 L829.18 915.03 L832.28 915.30 L835.40 915.56 L838.57 915.83 L841.77 916.09 L845.01 916.34 L848.29 916.60 L851.61 916.86 L854.97 917.11 L858.37 917.36 L861.81 917.61 L865.30 917.86 L868.83 918.10 L872.40 918.34 L876.02 918.59 L879.69 918.83 L883.40 919.06 L887.16 919.30 L890.97 919.53 L894.83 919.77 L898.73 920.00 L902.69 920.23 L906.71 920.45 L910.77 920.68 L914.89 920.90 L919.07 921.12 L923.30 921.34 L927.59 921.56 L931.94 921.78 L936.35 921.99 L940.82 922.21 L945.36 922.42 L949.95 922.63 L954.62 922.84 L959.35 923.04 L964.15 923.25 L969.01 923.45 L973.95 923.65 L978.97 923.85 L984.05 924.05 L989.21 924.24 L994.45 924.44 L999.77 924.63 L1005.17 924.82 L1010.65 925.01 L1016.22 925.20 L1021.88 925.39 L1027.62 925.57 L1033.45 925.75 L1039.38 925.94 L1045.40 926.12 L1051.52 926.29 L1057.74 926.47 L1064.06 926.64 L1070.49 926.82 L1077.02 926.99 L1083.67 927.16 L1090.42 927.33 L1097.30 927.50 L1104.29 927.66 L1111.40 927.82 L1118.64 927.99 L1126.00 928.15 L1133.50 928.31 L1141.13 928.46 L1148.90 928.62 L1156.81 928.77 L1164.87 928.93 L1173.08 929.08 L1181.44 929.23 L1189.97 929.38 L1198.65 929.52 L1207.51 929.67 L1216.53 929.81 L1225.74 929.95 L1235.13 930.10 L1244.70 930.23 L1254.47 930.37 L1264.45 930.51 L1274.62 930.64 L1285.01 930.78 L1295.63 930.91 L1306.46 931.04 L1317.53 931.17 L1328.85 931.29 L1340.41 931.42 L1352.23 931.55 L1364.32 931.67 L1376.68 931.79" stroke="#7E2F8E" stroke-dasharray="14 14" stroke-dashoffset="-0.9"/>
<path d="M1722.9 954.76 L1726.3 954.76" stroke="#EDB120"/>
</g>
<g font-family="'Liberation Sans', sans-serif" font-size="70.3" fill="#262626" stroke="#fff" stroke-width="0.8">
<text x="253.1" y="1295.3" text-anchor="middle">0</text>
<text x="741.9" y="1295.3" text-anchor="middle">50</text>
<text y="1295.3"><tspan x="1171.7">1</tspan><tspan x="1206.5">00</tspan></text>
<text y="1295.3"><tspan x="1658.9">1</tspan><tspan x="1693.7">50</tspan></text>
<text x="227.4" y="1225.4" text-anchor="end">0</text>
<text x="227.4" y="997.0" text-anchor="end">20</text>
<text x="227.4" y="766.8" text-anchor="end">40</text>
<text x="227.4" y="539.1" text-anchor="end">60</text>
<text x="227.4" y="308.0" text-anchor="end">80</text>
<text y="79.2"><tspan x="111.7">1</tspan><tspan x="149.2">00</tspan></text>
</g>
<g font-family="'Liberation Sans', sans-serif" font-size="77.8" fill="#262626" stroke="#fff" stroke-width="0.8">
<text x="1013.6" y="1397" text-anchor="middle">X position <tspan dx="1.3">[m]</tspan></text>
<text transform="translate(79.3,625.2) rotate(-90) scale(1,0.975)" text-anchor="middle">Y position <tspan dx="3">[m]</tspan></text>
</g>
<rect x="1079.4" y="92.1" width="655.9" height="587.9" fill="#fff" stroke="#262626" stroke-width="3.3"/>
<g fill="none" stroke-width="14.5">
<path d="M1093 169.3 L1235.3 169.3" stroke="#0072BD"/>
<path d="M1093 312.8 L1235.3 312.8" stroke="#D95319" stroke-dasharray="56 56"/>
<path d="M1093 460.4 L1235.3 460.4" stroke="#EDB120" stroke-dasharray="56 14 28 14"/>
<path d="M1093 603.8 L1235.3 603.8" stroke="#7E2F8E" stroke-dasharray="14 14"/>
</g>
<g font-family="'Liberation Sans', sans-serif" font-size="70" fill="#000" stroke="#000" stroke-width="0.6">
<text y="192.5"><tspan x="1242.6" font-family="'Liberation Serif', serif" font-size="76">Γ</tspan><tspan x="1287.5" dy="34.5" font-size="57.5">0</tspan><tspan x="1320.6" dy="-34.5"> = </tspan><tspan x="1398.4">250m</tspan><tspan x="1574.3" dy="-34.7" font-size="57.5">2</tspan><tspan x="1607.6" dy="34.7">/s</tspan></text>
<text y="338.9"><tspan x="1242.6" font-family="'Liberation Serif', serif" font-size="76">Γ</tspan><tspan x="1287.5" dy="34.5" font-size="57.5">0</tspan><tspan x="1320.6" dy="-34.5"> = </tspan><tspan x="1398.4">417m</tspan><tspan x="1574.3" dy="-34.7" font-size="57.5">2</tspan><tspan x="1607.6" dy="34.7">/s</tspan></text>
<text y="482.5"><tspan x="1242.6" font-family="'Liberation Serif', serif" font-size="76">Γ</tspan><tspan x="1287.5" dy="34.5" font-size="57.5">0z</tspan><tspan x="1348.8" dy="-34.5"> = </tspan><tspan x="1426.6">458m</tspan><tspan x="1602.5" dy="-34.7" font-size="57.5">2</tspan><tspan x="1635.8" dy="34.7">/s</tspan></text>
<text y="629.0"><tspan x="1242.6" font-family="'Liberation Serif', serif" font-size="76">Γ</tspan><tspan x="1287.5" dy="34.5" font-size="57.5">02z</tspan><tspan x="1379.9" dy="-34.5"> = </tspan><tspan x="1457.7">458m</tspan><tspan x="1633.6" dy="-34.7" font-size="57.5">2</tspan><tspan x="1666.9" dy="34.7">/s</tspan></text>
</g>
</svg>
</body></html>
